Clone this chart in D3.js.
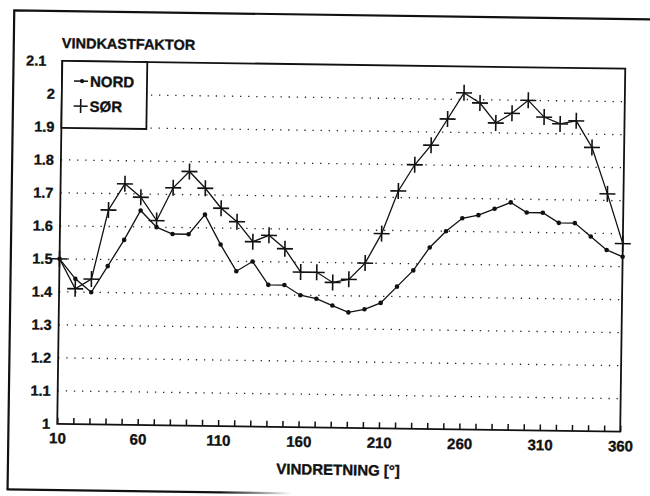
<!DOCTYPE html>
<html lang="no">
<head>
<meta charset="UTF-8">
<title>Vindkastfaktor</title>
<script src="https://d3js.org/d3.v7.min.js"></script>
<style>
  body { margin: 0; background: #fff; }
  svg { display: block; }
  text { font-family: "Liberation Sans", Arial, sans-serif; font-weight: bold; fill: #111; stroke: #111; stroke-width: 0.35px; }
</style>
</head>
<body>
<div id="chart"></div>
<script>
// wind direction (degrees) and gust factor for the two sites
const retning = [10, 20, 30, 40, 50, 60, 70, 80, 90, 100, 110, 120, 130, 140, 150, 160, 170, 180,
                 190, 200, 210, 220, 230, 240, 250, 260, 270, 280, 290, 300, 310, 320, 330, 340, 350, 360];
const nord = [1.50, 1.44, 1.40, 1.48, 1.56, 1.65, 1.60, 1.58, 1.58, 1.64, 1.55, 1.47, 1.50, 1.43, 1.43, 1.40, 1.39, 1.37,
              1.35, 1.36, 1.38, 1.43, 1.48, 1.55, 1.60, 1.64, 1.65, 1.67, 1.69, 1.66, 1.66, 1.63, 1.63, 1.59, 1.55, 1.53];
const sor = [1.50, 1.41, 1.44, 1.65, 1.73, 1.69, 1.62, 1.72, 1.77, 1.72, 1.66, 1.62, 1.56, 1.58, 1.54, 1.47, 1.47, 1.44,
             1.45, 1.50, 1.59, 1.72, 1.80, 1.86, 1.94, 2.02, 1.99, 1.93, 1.96, 2.00, 1.95, 1.93, 1.94, 1.86, 1.72, 1.57];
const xTickLabels = [10, 60, 110, 160, 210, 260, 310, 360];
const yTicks = [1, 1.1, 1.2, 1.3, 1.4, 1.5, 1.6, 1.7, 1.8, 1.9, 2, 2.1];
const gridValues = [1.1, 1.2, 1.3, 1.4, 1.5, 1.6, 1.7, 1.8, 1.9, 2];

const W = 650, H = 496;
const plot = {left: 59.75, right: 622.75, top: 64.75, bottom: 427.75};

const svg = d3.select("#chart").append("svg")
    .attr("width", W)
    .attr("height", H);

// the scanned page sits slightly askew
const g = svg.append("g")
    .attr("transform", "rotate(0.8, 341, 246)");

// outer frame (top, left and a fading bottom edge)
const fade = svg.append("defs").append("linearGradient")
    .attr("id", "fade").attr("x1", 0).attr("x2", 1);
fade.append("stop").attr("offset", "0.75").attr("stop-color", "#111");
fade.append("stop").attr("offset", "1").attr("stop-color", "#111").attr("stop-opacity", 0);

g.append("path")
    .attr("d", "M11,494 L11,15 L700,15")
    .attr("fill", "none").attr("stroke", "#111").attr("stroke-width", 2.2);
g.append("rect")
    .attr("x", 10).attr("y", 493).attr("width", 285).attr("height", 2.2)
    .attr("fill", "url(#fade)");

const x = d3.scaleLinear().domain([10, 360]).range([plot.left, plot.right]);
const y = d3.scaleLinear().domain([1, 2.1]).range([plot.bottom, plot.top]);

// dotted grid
g.append("g").selectAll("line")
    .data(gridValues)
    .join("line")
    .attr("x1", plot.left).attr("x2", plot.right)
    .attr("y1", d => y(d)).attr("y2", d => y(d))
    .attr("stroke", "#222").attr("stroke-width", 1.3)
    .attr("stroke-dasharray", "1.3 6.8");

// x axis: inward minor ticks every 10 degrees, labels every 50
const xAxis = d3.axisBottom(x)
    .tickValues(retning)
    .tickSizeInner(-6)
    .tickSizeOuter(0)
    .tickFormat(d => xTickLabels.includes(d) ? d : "");
const xg = g.append("g")
    .attr("transform", `translate(0,${plot.bottom})`)
    .call(xAxis);
xg.select(".domain").remove();
xg.selectAll(".tick line").attr("stroke", "#111").attr("stroke-width", 1.5);
xg.selectAll(".tick text")
    .attr("y", 9).attr("dy", "0.71em")
    .style("font-size", "15px").attr("fill", "#111");

// y axis labels only
const yAxis = d3.axisLeft(y)
    .tickValues(yTicks)
    .tickSize(0)
    .tickPadding(7)
    .tickFormat(d => d3.format("~g")(d));
const yg = g.append("g")
    .attr("transform", `translate(${plot.left},0)`)
    .call(yAxis);
yg.select(".domain").remove();
yg.selectAll(".tick text")
    .style("font-size", "14.5px").attr("fill", "#111")
    .attr("dx", d => d === 2.1 ? -9 : 0);

// plot frame
g.append("rect")
    .attr("x", plot.left).attr("y", plot.top)
    .attr("width", plot.right - plot.left).attr("height", plot.bottom - plot.top)
    .attr("fill", "none").attr("stroke", "#111").attr("stroke-width", 1.8);

const line = d3.line()
    .x((d, i) => x(retning[i]))
    .y(d => y(d));

// NORD: line with small dots
g.append("path")
    .datum(nord)
    .attr("d", line)
    .attr("fill", "none").attr("stroke", "#111").attr("stroke-width", 1.3);
g.append("g").selectAll("circle")
    .data(nord)
    .join("circle")
    .attr("cx", (d, i) => x(retning[i]))
    .attr("cy", d => y(d))
    .attr("r", 2.3)
    .attr("fill", "#111");

// SØR: line with plus markers
g.append("path")
    .datum(sor)
    .attr("d", line)
    .attr("fill", "none").attr("stroke", "#111").attr("stroke-width", 1.3);
g.append("g").selectAll("path")
    .data(sor)
    .join("path")
    .attr("transform", (d, i) => `translate(${x(retning[i])},${y(d)})`)
    .attr("d", "M-8,0H8M0,-8V8")
    .attr("stroke", "#111").attr("stroke-width", 1.6);

// legend box in the upper left corner
const lg = g.append("g").attr("transform", `translate(${plot.left},${plot.top})`);
lg.append("rect")
    .attr("width", 85).attr("height", 67)
    .attr("fill", "#fff").attr("stroke", "#111").attr("stroke-width", 1.8);
lg.append("line")
    .attr("x1", 12).attr("x2", 26).attr("y1", 20).attr("y2", 20)
    .attr("stroke", "#111").attr("stroke-width", 1.5);
lg.append("circle").attr("cx", 20).attr("cy", 20).attr("r", 2.1).attr("fill", "#111");
lg.append("text").attr("x", 28).attr("y", 25.5).style("font-size", "15px").text("NORD");
lg.append("path")
    .attr("transform", "translate(19,45)")
    .attr("d", "M-7,0H7M0,-7V7")
    .attr("stroke", "#111").attr("stroke-width", 1.6);
lg.append("text").attr("x", 28).attr("y", 50.5).style("font-size", "15px").text("SØR");

// titles
g.append("text")
    .attr("x", 59).attr("y", 52)
    .style("font-size", "14.5px")
    .text("VINDKASTFAKTOR");
g.append("text")
    .attr("x", (plot.left + plot.right) / 2).attr("y", 475)
    .attr("text-anchor", "middle")
    .style("font-size", "15px")
    .text("VINDRETNING [°]");
</script>
</body>
</html>
